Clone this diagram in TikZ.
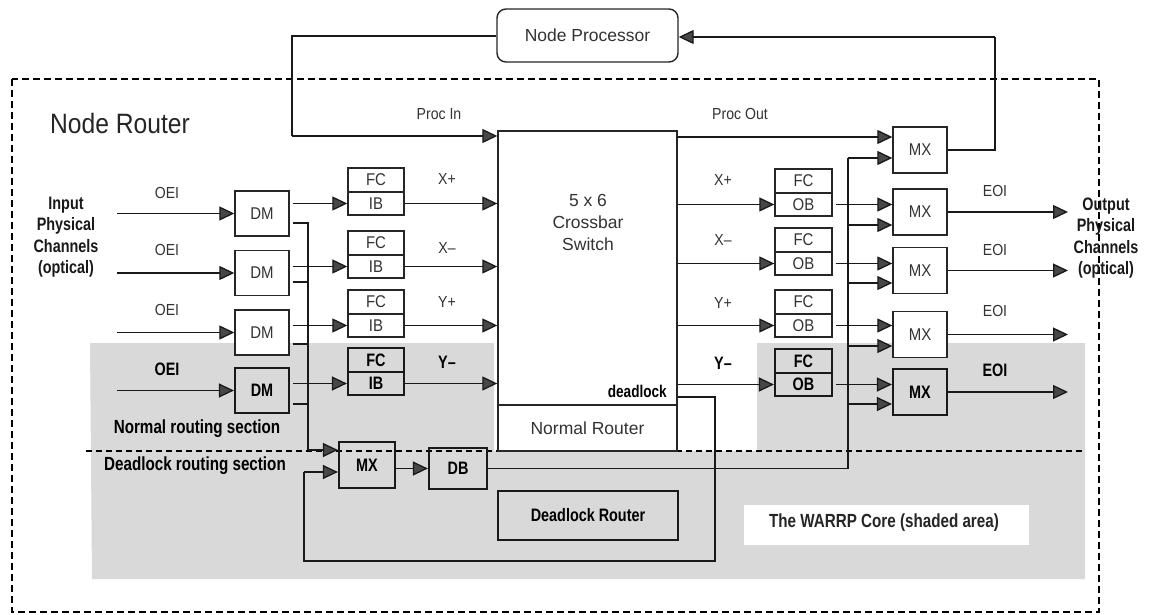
\documentclass[tikz,border=0pt]{standalone}
\usepackage{fontspec}
\setmainfont{Liberation Sans}
\newfontfamily\nf[FakeStretch=0.88]{Liberation Sans}
\newfontfamily\cb[FakeStretch=0.8]{Liberation Sans}
\usetikzlibrary{arrows.meta}
\tikzset{
 ln/.style={line width=1.3pt, draw=black!90},
 arr/.style={ln, -{Triangle[length=15pt,width=14pt,fill=black!72]}},
 box/.style={draw=black!85, line width=1.4pt, fill=white, inner sep=0pt, text=black!80, font=\nf\fontsize{17}{20}\selectfont},
 bbox/.style={draw=black!90, line width=2.2pt, inner sep=0pt, font=\cb\bfseries\fontsize{18}{20}\selectfont},
 lbl/.style={font=\nf\fontsize{16}{19}\selectfont, text=black!80, inner sep=0pt},
 blbl/.style={font=\cb\bfseries\fontsize{18}{20}\selectfont, inner sep=0pt},
 slbl/.style={font=\cb\bfseries\fontsize{19}{21}\selectfont, inner sep=0pt},
 reg/.style={font=\fontsize{17.5}{22}\selectfont, text=black!80, inner sep=0pt},
 dm/.style={minimum width=54pt, minimum height=45pt},
 fcb/.style={minimum width=56pt, minimum height=24pt},
 ibb/.style={minimum width=56pt, minimum height=23pt},
 mxb/.style={minimum width=54pt, minimum height=46pt},
}
\begin{document}
\begin{tikzpicture}[x=1pt,y=-1pt]
\useasboundingbox (0,0) rectangle (1157,615);
\fill[white] (0,0) rectangle (1157,615);
% shaded WARRP core
\fill[black!15] (90,343) -- (494,343) -- (494,451) -- (757,451) -- (757,343) -- (1085,343) -- (1085,579) -- (92,579) -- cycle;
\node[fill=white, minimum width=285pt, minimum height=40pt, inner sep=0pt] (wl) at (886.5,525) {};
\node[slbl, text=black!85] (wlt) at (884,523) {The WARRP Core (shaded area)};
% outer dashed frame
\draw[line width=1.3pt, dash pattern=on 7pt off 4pt] (12,79) rectangle (1099,612);
% section line
\draw[line width=1.6pt, dash pattern=on 6pt off 4pt] (86,451) -- (1084,451);
\node[slbl] (nrs) at (197,429) {Normal routing section};
\node[slbl] (drs) at (195,466) {Deadlock routing section};
\node[font=\nf\fontsize{28}{30}\selectfont, text=black!85, inner sep=0pt] (nr) at (120,123) {Node Router};

% node processor
\node[draw=black!85, line width=1.4pt, rounded corners=9pt, fill=white, minimum width=181pt, minimum height=53pt, reg] (np) at (587.5,35.5) {Node Processor};

% crossbar
\node[box, minimum width=179pt, minimum height=274pt] (xb) at (587.5,268) {};
\node[box, minimum width=179pt, minimum height=46pt, font=\fontsize{17.5}{20}\selectfont] (nrt) at (587.5,428) {Normal Router};
\node[reg, align=center] (xbt) at (588,222) {5 x 6\\Crossbar\\Switch};
\node[blbl, font=\cb\bfseries\fontsize{17}{20}\selectfont, anchor=base east] (dl) at (667,397) {deadlock};

% input / output channel labels
\node[reg, align=center, font=\cb\bfseries\fontsize{18}{21.5}\selectfont, text=black!90] (inp) at (66,237) {Input\\Physical\\Channels\\(optical)};
\node[reg, align=center, font=\cb\bfseries\fontsize{18}{21.5}\selectfont, text=black!90] (outp) at (1106,238) {Output\\Physical\\Channels\\(optical)};

\node[box, dm] (dm1) at (262,213.5) {DM};
\node[box, dm] (dm2) at (262,273) {DM};
\node[box, dm] (dm3) at (262,332.5) {DM};
\node[bbox, dm] (dm4) at (262,390.5) {DM};

\node[box, fcb] (fc1) at (376,180) {FC};
\node[box, ibb] (ib1) at (376,203.5) {IB};
\node[box, fcb] (fc2) at (376,243) {FC};
\node[box, ibb] (ib2) at (376,266.5) {IB};
\node[box, fcb] (fc3) at (376,302) {FC};
\node[box, ibb] (ib3) at (376,325.5) {IB};
\node[bbox, fcb] (fc4) at (376,360) {FC};
\node[bbox, ibb] (ib4) at (376,383.5) {IB};

\coordinate (s1) at (117,213.5);
\coordinate (s2) at (117,273);
\coordinate (s3) at (117,332.5);
\coordinate (s4) at (117,390.5);
\draw[arr] (s1) -- (dm1.west);
\draw[arr] (s2) -- (dm2.west);
\draw[arr] (s3) -- (dm3.west);
\draw[arr] (s4) -- (dm4.west);
\node[lbl] (oei1) at (167,193) {OEI};
\node[lbl] (oei2) at (167,250) {OEI};
\node[lbl] (oei3) at (167,310) {OEI};
\node[blbl] (oei4) at (167,369) {OEI};

\foreach \i in {1,2,3,4}{
  \draw[arr] ([xshift=3pt]dm\i.east |- ib\i.west) -- (ib\i.west);
  \draw[arr] (ib\i.east) -- (ib\i.east -| xb.west);
}
% DM to deadlock bus
\coordinate (busL) at (308,450);
\draw[ln] ([xshift=3pt]dm1.east |- 0,223) -- (308,223) -- (busL);
\draw[ln] ([xshift=3pt]dm2.east |- 0,282) -- (308,282);
\draw[ln] ([xshift=3pt]dm3.east |- 0,344) -- (308,344);
\draw[ln] ([xshift=3pt]dm4.east |- 0,404) -- (308,404);

\node[lbl] (xp) at (447,179) {X+};
\node[lbl] (xm) at (447,248) {X–};
\node[lbl] (yp) at (447,302) {Y+};
\node[blbl] (ym) at (447,362) {Y–};

% deadlock MX and DB
\node[bbox, minimum width=56pt, minimum height=46pt] (mxd) at (367,465) {MX};
\node[bbox, minimum width=58pt, minimum height=41pt] (db) at (458,468.5) {DB};
\draw[arr] (busL) -- (mxd.west |- busL);
\draw[arr] (mxd.east |- db.west) -- (db.west);
\node[bbox, minimum width=180pt, minimum height=49pt] (dr) at (588,515.5) {Deadlock Router};

% deadlock loop
\coordinate (dl1) at (715,397);
\coordinate (dl2) at (715,561);
\coordinate (dl3) at (304,561);
\coordinate (dl4) at (304,472);
\draw[ln] (xb.east |- dl1) -- (dl1) -- (dl2) -- (dl3) -- (dl4);
\draw[arr] (dl4) -- (mxd.west |- dl4);

% proc in
\coordinate (pi1) at (292,36);
\coordinate (pi2) at (292,136);
\draw[ln] (np.west |- pi1) -- (pi1) -- (pi2);
\draw[arr] (pi2) -- (xb.west |- pi2);
\node[lbl] (pin) at (439,114) {Proc In};
\node[lbl] (pout) at (740,114) {Proc Out};

% output side
\node[box, fcb, minimum width=57pt] (ofc1) at (803.5,181) {FC};
\node[box, ibb, minimum width=57pt] (ob1) at (803.5,204.5) {OB};
\node[box, fcb, minimum width=57pt] (ofc2) at (803.5,240) {FC};
\node[box, ibb, minimum width=57pt] (ob2) at (803.5,263.5) {OB};
\node[box, fcb, minimum width=57pt] (ofc3) at (803.5,302) {FC};
\node[box, ibb, minimum width=57pt] (ob3) at (803.5,325.5) {OB};
\node[bbox, fcb, minimum width=57pt] (ofc4) at (803.5,361) {FC};
\node[bbox, ibb, minimum width=57pt] (ob4) at (803.5,384.5) {OB};

\node[box, mxb] (mx0) at (920,150) {MX};
\node[box, mxb] (mx1) at (920,212) {MX};
\node[box, mxb] (mx2) at (920,270.5) {MX};
\node[box, mxb] (mx3) at (920,334.5) {MX};
\node[bbox, mxb] (mx4) at (920,392) {MX};

\node[lbl] (oxp) at (723,180) {X+};
\node[lbl] (oxm) at (723,240) {X–};
\node[lbl] (oyp) at (723,303) {Y+};
\node[blbl] (oym) at (723,363) {Y–};

\foreach \i in {1,2,3,4}{
  \draw[arr] (xb.east |- ob\i.west) -- (ob\i.west);
  \draw[arr] ([xshift=3pt]ob\i.east) -- (ob\i.east -| mx\i.west);
}
% proc out
\coordinate (po) at (677,137);
\draw[arr] (po) -- (mx0.west |- po);
% DB bus to MX
\coordinate (bR) at (848,468.5);
\coordinate (bT) at (848,158);
\draw[ln] (db.east) -- (bR) -- (bT);
\draw[arr] (bT) -- (mx0.west |- bT);
\draw[arr] (848,225) -- (mx1.west |- 0,225);
\draw[arr] (848,283) -- (mx2.west |- 0,283);
\draw[arr] (848,346) -- (mx3.west |- 0,346);
\draw[arr] (848,404) -- (mx4.west |- 0,404);

% to node processor
\coordinate (pr1) at (995,150);
\coordinate (pr2) at (995,37);
\draw[ln] (mx0.east) -- (pr1) -- (pr2);
\draw[arr] (pr2) -- (np.east |- pr2);

% EOI outputs
\coordinate (e1) at (1068,212);
\coordinate (e2) at (1068,270.5);
\coordinate (e3) at (1068,334.5);
\coordinate (e4) at (1068,392);
\draw[arr] (mx1.east) -- (e1);
\draw[arr] (mx2.east) -- (e2);
\draw[arr] (mx3.east) -- (e3);
\draw[arr] (mx4.east) -- (e4);
\node[lbl] (eoi1) at (995,191) {EOI};
\node[lbl] (eoi2) at (995,250) {EOI};
\node[lbl] (eoi3) at (995,311) {EOI};
\node[blbl] (eoi4) at (995,370) {EOI};
\end{tikzpicture}
\end{document}
